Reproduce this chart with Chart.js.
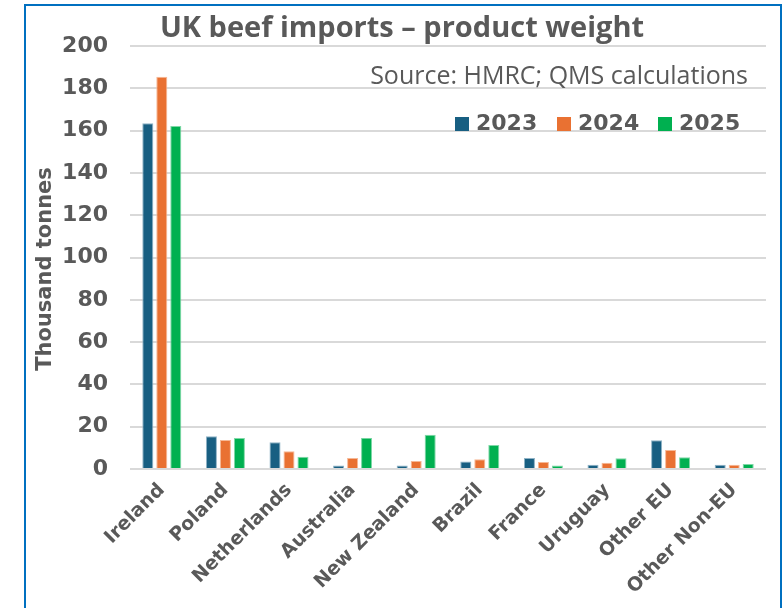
<!DOCTYPE html>
<html>
<head>
<meta charset="utf-8">
<script src="https://cdn.jsdelivr.net/npm/chart.js@4.4.1/dist/chart.umd.min.js"></script>
<style>
  html, body { margin: 0; padding: 0; background: #fff; }
  #wrap { position: relative; width: 783px; height: 608px; overflow: hidden; }
  #frame { position: absolute; left: 24px; top: 4px; width: 758px; height: 640px; border: 2px solid #0070c0; box-sizing: border-box; }
  canvas { position: absolute; left: 0; top: 0; }
</style>
</head>
<body>
<div id="wrap">
  <div id="frame"></div>
  <canvas id="beef-chart" width="783" height="608"></canvas>
</div>
<script>
const countries = ['Ireland', 'Poland', 'Netherlands', 'Australia', 'New Zealand', 'Brazil', 'France', 'Uruguay', 'Other EU', 'Other Non-EU'];
const imports2023 = [163.5, 15.5, 12.6, 1.6, 1.6, 3.6, 5.2, 2.0, 13.6, 2.0];
const imports2024 = [185.5, 13.7, 8.4, 5.2, 3.8, 4.6, 3.3, 3.0, 9.0, 2.0];
const imports2025 = [162.2, 14.7, 5.8, 14.7, 16.2, 11.3, 1.6, 5.1, 5.5, 2.4];
const yTicks = [0, 20, 40, 60, 80, 100, 120, 140, 160, 180, 200];

const grey = '#595959';
const axisFont = 'DejaVu Sans';

// title, source note, legend and y title are placed by hand (they sit inside the plot)
const overlay = {
    id: 'overlay',
    afterDraw(chart) {
        const ctx = chart.ctx;
        ctx.save();
        ctx.fillStyle = grey;
        ctx.textBaseline = 'alphabetic';

        ctx.font = 'bold 29px "Open Sans"';
        ctx.textAlign = 'center';
        ctx.fillText('UK beef imports \u2013 product weight', 402, 37);

        ctx.font = '25px "Open Sans"';
        ctx.textAlign = 'right';
        ctx.fillText('Source: HMRC; QMS calculations', 748, 84);

        ctx.font = 'bold 22px "DejaVu Sans"';
        ctx.textAlign = 'left';
        const starts = [455, 557, 658];
        chart.data.datasets.forEach((ds, i) => {
            ctx.fillStyle = ds.backgroundColor;
            ctx.fillRect(starts[i], 117, 14, 14);
            ctx.fillStyle = grey;
            ctx.fillText(ds.label, starts[i] + 21, 130);
        });

        ctx.translate(46, 269);
        ctx.rotate(-Math.PI / 2);
        ctx.font = 'bold 21px "DejaVu Sans"';
        ctx.textAlign = 'center';
        ctx.textBaseline = 'middle';
        ctx.fillText('Thousand tonnes', 0, 0);
        ctx.restore();
    }
};

document.addEventListener('DOMContentLoaded', () => {
    const el = document.getElementById('beef-chart');
    new Chart(el, {
        type: 'bar',
        data: {
            labels: countries,
            datasets: [
                {
                    label: '2023',
                    data: imports2023,
                    backgroundColor: '#185f82',
                    borderColor: '#8fb3c6',
                    borderWidth: 1
                },
                {
                    label: '2024',
                    data: imports2024,
                    backgroundColor: '#e97132',
                    borderColor: '#f6b896',
                    borderWidth: 1
                },
                {
                    label: '2025',
                    data: imports2025,
                    backgroundColor: '#00b050',
                    borderColor: '#7fd8a7',
                    borderWidth: 1
                }
            ]
        },
        options: {
            responsive: false,
            animation: false,
            categoryPercentage: 0.66,
            barPercentage: 0.79,
            layout: {
                padding: { left: 24, right: 17, top: 46, bottom: 0 }
            },
            plugins: {
                legend: { display: false },
                title: { display: false },
                tooltip: { enabled: false }
            },
            scales: {
                x: {
                    grid: { display: false },
                    border: { display: false },
                    ticks: {
                        color: grey,
                        font: { family: axisFont, size: 19, weight: 'bold' },
                        maxRotation: 45,
                        minRotation: 45,
                        padding: 2
                    },
                    afterFit(scale) { scale.height = 139; }
                },
                y: {
                    min: 0,
                    max: 200,
                    afterBuildTicks(scale) {
                        scale.ticks = yTicks.map(v => ({ value: v }));
                    },
                    grid: { color: '#d9d9d9', lineWidth: 2, drawTicks: false },
                    border: { display: false },
                    ticks: {
                        color: grey,
                        font: { family: axisFont, size: 22, weight: 'bold' },
                        padding: 22
                    },
                    afterFit(scale) { scale.width = 106; }
                }
            }
        },
        plugins: [overlay]
    });
});
</script>
</body>
</html>
